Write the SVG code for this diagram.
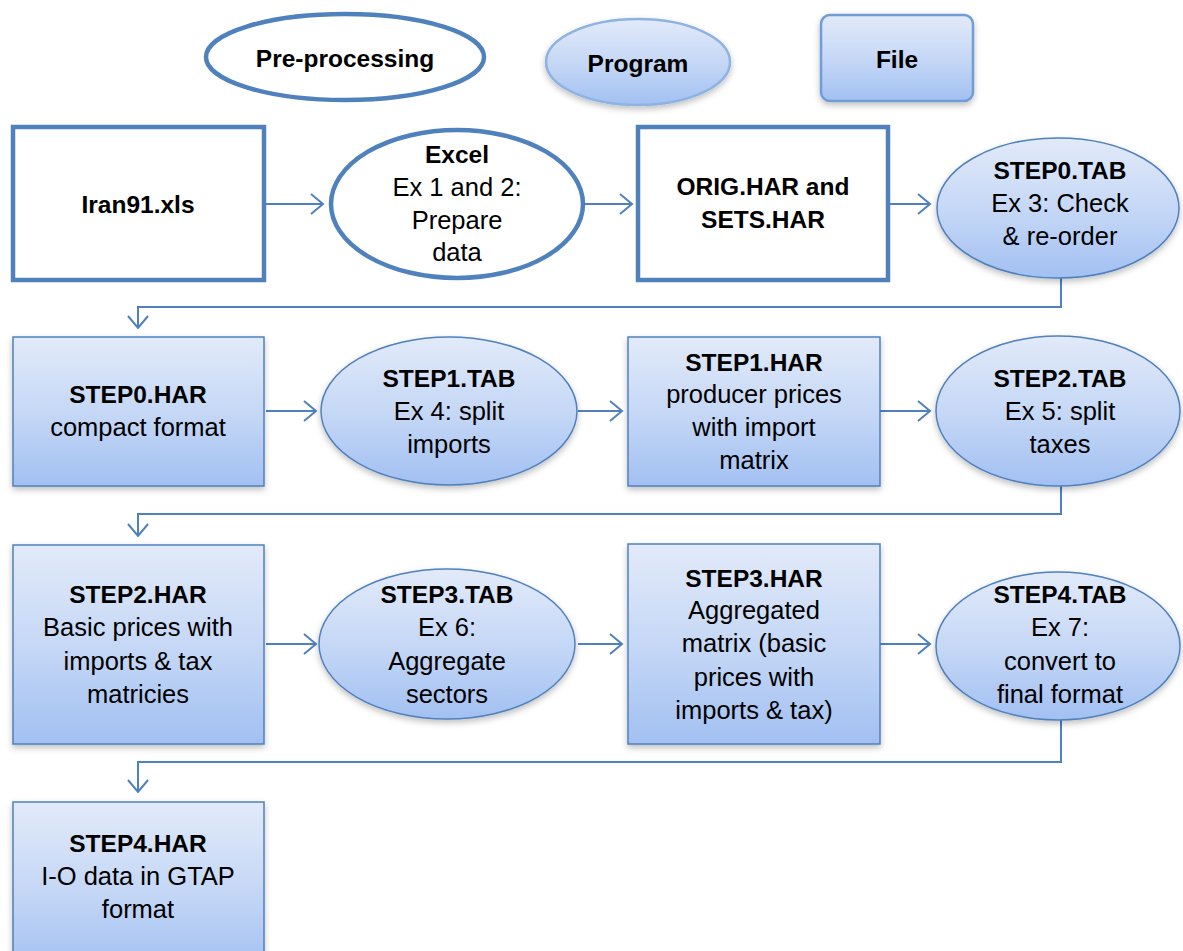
<svg xmlns="http://www.w3.org/2000/svg" width="1183" height="951" viewBox="0 0 1183 951">
<defs>
<linearGradient id="g" x1="0" y1="0" x2="0" y2="1">
<stop offset="0" stop-color="#E2EAF9"/>
<stop offset="0.5" stop-color="#C6D8F6"/>
<stop offset="1" stop-color="#A2C0F2"/>
</linearGradient>
<filter id="sh" x="-10%" y="-10%" width="120%" height="125%">
<feDropShadow dx="0" dy="3" stdDeviation="3" flood-color="#000" flood-opacity="0.25"/>
</filter>
<marker id="ar" markerUnits="userSpaceOnUse" markerWidth="16" markerHeight="24" refX="13" refY="11" orient="auto" viewBox="0 0 16 24">
<path d="M1,1 L13,11 L1,21" fill="none" stroke="#4F81BD" stroke-width="2"/>
</marker>
<style>
.pre{fill:#fff;stroke:#4F81BD;stroke-width:4.5}
.prog{fill:url(#g);stroke:#4F81BD;stroke-width:1.5;filter:url(#sh)}
.file{fill:url(#g);stroke:#4F81BD;stroke-width:1.5;filter:url(#sh)}
.c{fill:none;stroke:#4F81BD;stroke-width:2;marker-end:url(#ar)}
text{font-family:"Liberation Sans",Arial,sans-serif;font-size:25.5px;fill:#000;text-anchor:middle}
.b{font-weight:bold;font-size:24.5px}
</style>
</defs>

<g id="legend-preprocessing">
<ellipse class="pre" cx="345" cy="57" rx="139" ry="43"/>
<text class="b" x="345" y="67">Pre-processing</text>
</g>
<g id="legend-program">
<ellipse cx="638" cy="62" rx="92" ry="43" fill="url(#g)" stroke="#8DB3E2" stroke-width="2.5" filter="url(#sh)"/>
<text class="b" x="638" y="72">Program</text>
</g>
<g id="legend-file">
<rect x="821" y="15" width="152" height="86" rx="9" fill="url(#g)" stroke="#6F9DD6" stroke-width="2.5" filter="url(#sh)"/>
<text class="b" x="897" y="68">File</text>
</g>

<g id="connectors">
<path class="c" d="M266,204 L323,204"/>
<path class="c" d="M585,204 L632,204"/>
<path class="c" d="M890,204 L930,204"/>
<path class="c" d="M1061,278 L1061,307 L138,307 L138,328"/>
<path class="c" d="M266,411 L316,411"/>
<path class="c" d="M578,411 L622,411"/>
<path class="c" d="M880,411 L930,411"/>
<path class="c" d="M1061,486 L1061,514 L138,514 L138,536"/>
<path class="c" d="M266,644 L316,644"/>
<path class="c" d="M578,644 L622,644"/>
<path class="c" d="M880,644 L930,644"/>
<path class="c" d="M1061,720 L1061,762 L138,762 L138,792"/>
</g>

<g id="iran91">
<rect class="pre" x="13" y="127" width="251" height="153"/>
<text class="b" x="138" y="213">Iran91.xls</text>
</g>
<g id="excel">
<ellipse class="pre" cx="457" cy="204" rx="126" ry="74"/>
<text class="b" x="457" y="163">Excel</text>
<text x="457" y="196">Ex 1 and 2:</text>
<text x="457" y="229">Prepare</text>
<text x="457" y="261">data</text>
</g>
<g id="orig">
<rect class="pre" x="638" y="127" width="250" height="153"/>
<text class="b" x="763" y="195">ORIG.HAR and</text>
<text class="b" x="763" y="228">SETS.HAR</text>
</g>
<g id="step0tab">
<ellipse class="prog" cx="1058" cy="208" rx="121" ry="70"/>
<text class="b" x="1060" y="179">STEP0.TAB</text>
<text x="1060" y="212">Ex 3: Check</text>
<text x="1060" y="245">&amp; re-order</text>
</g>

<g id="step0har">
<rect class="file" x="13" y="337" width="251" height="149"/>
<text class="b" x="138" y="403">STEP0.HAR</text>
<text x="138" y="436">compact format</text>
</g>
<g id="step1tab">
<ellipse class="prog" cx="449" cy="411" rx="128" ry="74"/>
<text class="b" x="449" y="387">STEP1.TAB</text>
<text x="449" y="420">Ex 4: split</text>
<text x="449" y="453">imports</text>
</g>
<g id="step1har">
<rect class="file" x="628" y="337" width="252" height="149"/>
<text class="b" x="754" y="371">STEP1.HAR</text>
<text x="754" y="403">producer prices</text>
<text x="754" y="436">with import</text>
<text x="754" y="469">matrix</text>
</g>
<g id="step2tab">
<ellipse class="prog" cx="1058" cy="411" rx="122" ry="75"/>
<text class="b" x="1060" y="387">STEP2.TAB</text>
<text x="1060" y="420">Ex 5: split</text>
<text x="1060" y="453">taxes</text>
</g>

<g id="step2har">
<rect class="file" x="13" y="545" width="251" height="199"/>
<text class="b" x="138" y="603">STEP2.HAR</text>
<text x="138" y="636">Basic prices with</text>
<text x="138" y="670">imports &amp; tax</text>
<text x="138" y="703">matricies</text>
</g>
<g id="step3tab">
<ellipse class="prog" cx="447" cy="644" rx="128" ry="75"/>
<text class="b" x="447" y="603">STEP3.TAB</text>
<text x="447" y="636">Ex 6:</text>
<text x="447" y="670">Aggregate</text>
<text x="447" y="703">sectors</text>
</g>
<g id="step3har">
<rect class="file" x="628" y="544" width="252" height="200"/>
<text class="b" x="754" y="587">STEP3.HAR</text>
<text x="754" y="619">Aggregated</text>
<text x="754" y="652">matrix (basic</text>
<text x="754" y="686">prices with</text>
<text x="754" y="719">imports &amp; tax)</text>
</g>
<g id="step4tab">
<ellipse class="prog" cx="1058" cy="646" rx="122" ry="74"/>
<text class="b" x="1060" y="603">STEP4.TAB</text>
<text x="1060" y="636">Ex 7:</text>
<text x="1060" y="670">convert to</text>
<text x="1060" y="703">final format</text>
</g>

<g id="step4har">
<rect class="file" x="13" y="802" width="251" height="170"/>
<text class="b" x="138" y="852">STEP4.HAR</text>
<text x="138" y="885">I-O data in GTAP</text>
<text x="138" y="918">format</text>
</g>
</svg>
